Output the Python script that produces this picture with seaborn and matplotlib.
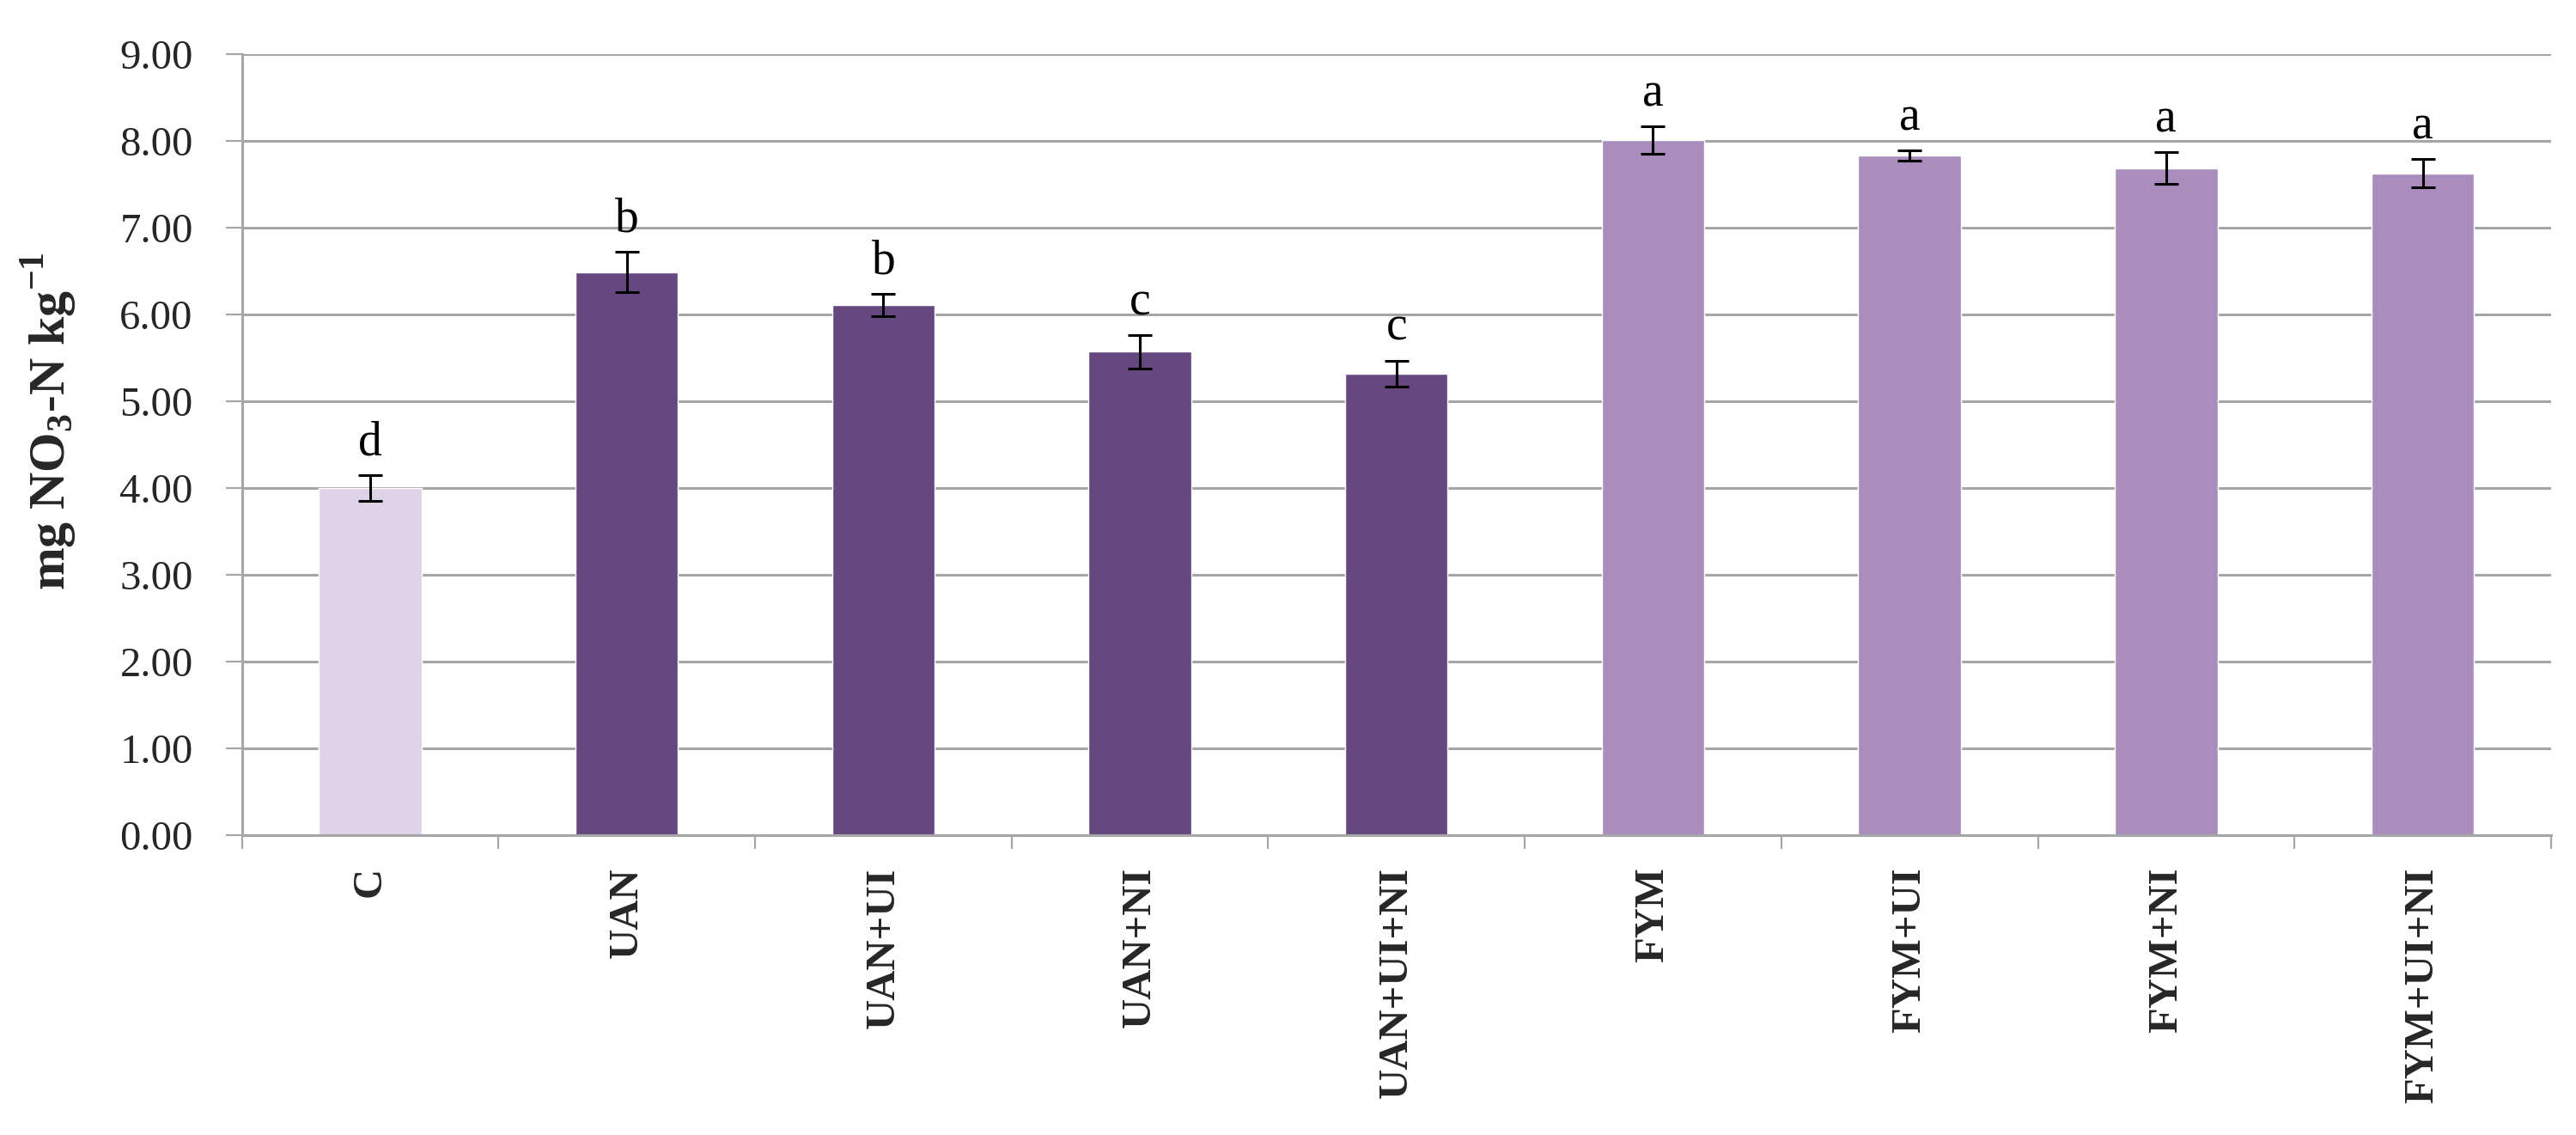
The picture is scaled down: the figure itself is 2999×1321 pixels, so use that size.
import matplotlib
matplotlib.use("Agg")
import matplotlib.pyplot as plt
import numpy as np
import seaborn as sns

# Dados
tratamentos = ["C", "UAN", "UAN+UI", "UAN+NI", "UAN+UI+NI", "FYM", "FYM+UI", "FYM+NI", "FYM+UI+NI"]
medias = [4.00, 6.49, 6.11, 5.57, 5.32, 8.01, 7.83, 7.69, 7.63]
erros = [0.15, 0.23, 0.13, 0.19, 0.15, 0.16, 0.06, 0.18, 0.16]
letras = ["d", "b", "b", "c", "c", "a", "a", "a", "a"]
cores = ["#DED3E7", "#654880", "#654880", "#654880", "#654880",
         "#A98DBE", "#A98DBE", "#A98DBE", "#A98DBE"]
yticks = [0, 1, 2, 3, 4, 5, 6, 7, 8, 9]

sns.set_style("white")
plt.rcParams["font.family"] = ["Liberation Serif", "DejaVu Serif"]
plt.rcParams["mathtext.fontset"] = "custom"
plt.rcParams["mathtext.rm"] = "Liberation Serif:bold"
plt.rcParams["mathtext.bf"] = "Liberation Serif:bold"

fig = plt.figure(figsize=(29.99, 13.21), dpi=100)
ax = fig.add_axes([0.0939, 0.2644, 0.8964, 0.6877])

sns.barplot(x=tratamentos, y=medias, hue=tratamentos, palette=cores,
            width=0.4, saturation=1, legend=False, ax=ax, zorder=2)

# Barras de erro
x = np.arange(len(tratamentos))
ax.errorbar(x, medias, yerr=erros, fmt="none", ecolor="black",
            elinewidth=2.2, capsize=10, capthick=2.2, zorder=3)

# Letras de significância
for xi, m, e, l in zip(x, medias, erros, letras):
    ax.annotate(l, (xi, m + e), xytext=(0, 17), textcoords="offset points",
                ha="center", va="baseline", fontsize=40, color="black")

# Eixos
ax.set_ylim(0, 9)
ax.set_xlim(-0.5, len(tratamentos) - 0.5)
ax.set_yticks(yticks)
ax.set_yticklabels(["{:.2f}".format(v) for v in yticks], fontsize=35)
ax.yaxis.grid(True, color="#A6A6A6", linewidth=2.2, zorder=0)
ax.set_axisbelow(True)

ax.set_xticks(x)
ax.set_xticklabels(tratamentos, rotation=90, fontsize=35, fontweight="bold",
                   va="top", ha="center")
ax.set_xticks(np.arange(-0.5, len(tratamentos), 1), minor=True)
ax.tick_params(axis="x", which="major", length=0, pad=27)
ax.tick_params(axis="x", which="minor", length=11.5, width=1.6, color="#A6A6A6",
               direction="out", bottom=True)
ax.tick_params(axis="y", length=14, width=1.6, color="#A6A6A6", pad=27,
               direction="out", left=True)

for s in ["top", "right"]:
    ax.spines[s].set_visible(False)
for s in ["left", "bottom"]:
    ax.spines[s].set_color("#A6A6A6")
    ax.spines[s].set_linewidth(2.2)

ax.set_xlabel("")
ax.set_ylabel(r"mg NO$_3$-N kg$^{-1}$", fontsize=43, fontweight="bold",
              va="center", ha="center")
ax.yaxis.set_label_coords(-0.0836, 0.53)

fig.savefig("out.png", dpi=100)
